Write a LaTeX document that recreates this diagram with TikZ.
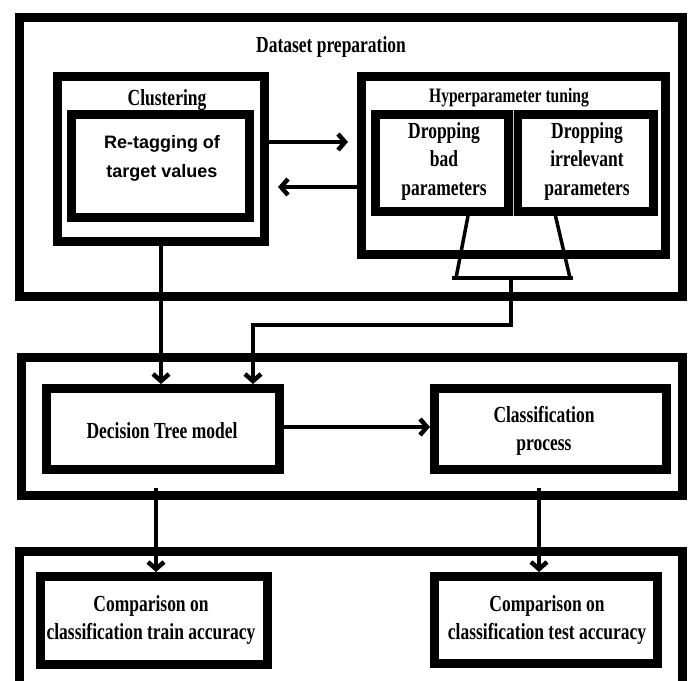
\documentclass[tikz,border=0pt]{standalone}
\usepackage{fontspec}
\setmainfont{Liberation Serif}[FakeStretch=0.76]
\newfontfamily\arialb{Liberation Sans}
\usetikzlibrary{arrows.meta}
\tikzset{
  bx/.style={draw, line width=9pt, inner sep=0pt, outer sep=4.5pt, rectangle},
  txt/.style={inner sep=0pt, align=center, font=\bfseries\fontsize{23}{28.5}\selectfont},
  smalltxt/.style={inner sep=0pt, align=center, font=\bfseries\fontsize{20.5}{24}\selectfont},
  sanstxt/.style={inner sep=0pt, align=center, font=\arialb\bfseries\fontsize{18}{29}\selectfont},
  conn/.style={line width=4.5pt, -{Straight Barb[length=7pt,width=16pt]}},
  link/.style={line width=3.5pt},
}
\begin{document}
\begin{tikzpicture}[x=1pt,y=-1pt]
\useasboundingbox (0,0) rectangle (692,680);
\begin{scope}
\clip (0,0) rectangle (692,680);
% outer groups
\node[bx, minimum width=663, minimum height=279] (ds) at (351,157) {};
\node[bx, minimum width=661, minimum height=138] (mid) at (352,426.5) {};
\node[bx, minimum width=663, minimum height=164] (bot) at (351,633.5) {};
% inner boxes
\node[bx, minimum width=207, minimum height=165] (clust) at (161,159) {};
\node[bx, minimum width=178, minimum height=103] (retag) at (160.5,166) {};
\node[bx, minimum width=304, minimum height=178] (hyper) at (513.5,165.5) {};
\node[bx, minimum width=133, minimum height=97] (bad) at (442,163) {};
\node[bx, minimum width=136, minimum height=97] (irr) at (585.5,163) {};
\draw[gray!45, line width=1pt] (bad.north east) -- (bad.south east);
\node[bx, minimum width=233, minimum height=81] (dec) at (163,429) {};
\node[bx, minimum width=232, minimum height=81] (cls) at (550.5,429) {};
\node[bx, minimum width=227, minimum height=88] (train) at (154,620.5) {};
\node[bx, minimum width=223, minimum height=87] (test) at (546,620) {};
% texts
\node[txt] (dstitle) at (331,47) {Dataset preparation};
\node[txt] (clusttitle) at (167,100) {Clustering};
\node[sanstxt] (retagtxt) at (162,158) {Re-tagging of\\target values};
\node[smalltxt] (hypertitle) at (509,98) {Hyperparameter tuning};
\node[txt] (badtxt) at (444,161) {Dropping\\bad\\parameters};
\node[txt] (irrtxt) at (587,161) {Dropping\\irrelevant\\parameters};
\node[txt] (dectxt) at (162,431) {Decision Tree model};
\node[txt] (clstxt) at (544,431) {Classification\\process};
\node[txt] (traintxt) at (151,620) {Comparison on\\classification train accuracy};
\node[txt] (testtxt) at (547,620) {Comparison on\\classification test accuracy};
% connectors
\draw[conn, shorten >=9pt] (clust.east |- 0,142) -- (hyper.west |- 0,142);
\draw[conn, shorten >=9pt] (hyper.west |- 0,187) -- (clust.east |- 0,187);
\coordinate (tl) at (452,278);
\coordinate (tr) at (573,278);
\coordinate (tm) at (511,278);
\coordinate (bend) at (511,325);
\draw[link] ([xshift=26pt]bad.south) -- ([xshift=4pt]tl);
\draw[link] ([xshift=-30pt]irr.south) -- ([xshift=-3pt]tr);
\draw[link] (tl) -- (tr);
\draw[conn] (tm) -- (bend) -| ([xshift=90pt]dec.north);
\draw[conn] (clust.south) -- (clust.south |- dec.north);
\draw[conn] (dec.east |- 0,427) -- (cls.west |- 0,427);
\coordinate (s1) at (156,488);
\coordinate (s2) at (539,488);
\draw[conn] (s1) -- (s1 |- train.north);
\draw[conn] (s2) -- (s2 |- test.north);
\end{scope}
\end{tikzpicture}
\end{document}
